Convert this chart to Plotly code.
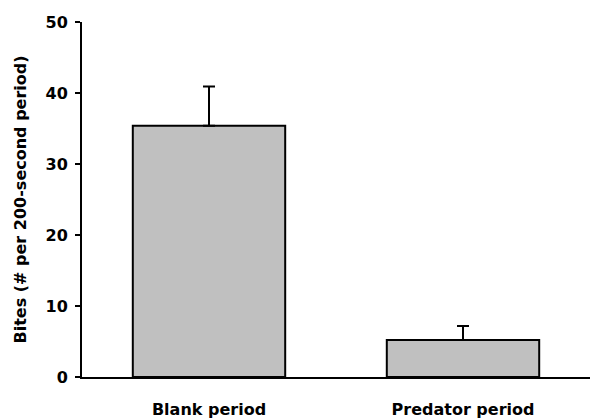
import plotly.graph_objects as go

categories = ["Blank period", "Predator period"]
bites_mean = [35.4, 5.2]
bites_se = [5.5, 2.0]
y_ticks = [0, 10, 20, 30, 40, 50]

FONT = "DejaVu Sans"

fig = go.Figure()
fig.add_trace(go.Bar(
    x=categories,
    y=bites_mean,
    width=0.6,
    marker=dict(color="#c0c0c0", line=dict(color="black", width=2)),
    error_y=dict(type="data", array=bites_se, symmetric=False, arrayminus=[0, 0],
                 color="black", thickness=2, width=6),
))

fig.update_layout(
    width=591, height=419,
    margin=dict(l=82, r=1, t=22, b=42),
    plot_bgcolor="white", paper_bgcolor="white",
    showlegend=False,
    font=dict(family=FONT, size=16, color="black"),
    bargap=0.4,
)
fig.update_xaxes(
    range=[-0.5, 1.5],
    automargin=False,
    showline=True, linecolor="black", linewidth=2,
    ticks="", showgrid=False, zeroline=False,
    tickfont=dict(family=FONT, size=16, color="black", weight="bold"),
    ticklabelstandoff=17,
)
fig.update_yaxes(
    range=[0, 50],
    automargin=False,
    tickvals=y_ticks,
    showline=True, linecolor="black", linewidth=2,
    ticks="outside", ticklen=5, tickwidth=2, tickcolor="black",
    showgrid=False, zeroline=False,
    tickfont=dict(family=FONT, size=16, color="black", weight="bold"),
    ticklabelstandoff=4,
)
fig.add_annotation(
    text="Bites (# per 200-second period)",
    xref="paper", yref="paper", x=(20 - 82) / 508, y=0.5,
    xanchor="center", yanchor="middle", textangle=-90, showarrow=False,
    font=dict(family=FONT, size=16, color="black", weight="bold"),
)

fig.write_html(
    "out.html",
    config={"displayModeBar": False},
    post_script="document.body.style.margin='0px';document.body.style.padding='0px';",
)
